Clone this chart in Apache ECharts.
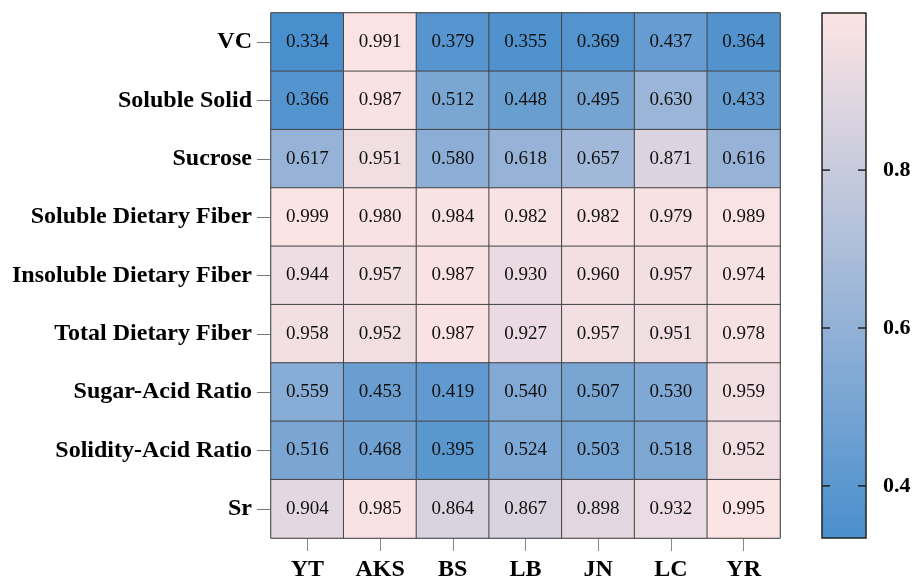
<!DOCTYPE html>
<html>
<head>
<meta charset="utf-8">
<script src="https://cdn.jsdelivr.net/npm/echarts@6/dist/echarts.min.js"></script>
<style>
  html, body { margin: 0; padding: 0; background: #fff; }
  #chart { width: 915px; height: 577px; }
</style>
</head>
<body>
<div id="chart"></div>
<script>
// Cultivars along the bottom
const cultivars = ['YT', 'AKS', 'BS', 'LB', 'JN', 'LC', 'YR'];
// Quality traits, listed top to bottom
const traits = ['VC', 'Soluble Solid', 'Sucrose', 'Soluble Dietary Fiber',
  'Insoluble Dietary Fiber', 'Total Dietary Fiber', 'Sugar-Acid Ratio',
  'Solidity-Acid Ratio', 'Sr'];

// One row of scores per trait (same order as cultivars)
const vc            = [0.334, 0.991, 0.379, 0.355, 0.369, 0.437, 0.364];
const solubleSolid  = [0.366, 0.987, 0.512, 0.448, 0.495, 0.630, 0.433];
const sucrose       = [0.617, 0.951, 0.580, 0.618, 0.657, 0.871, 0.616];
const solubleFiber  = [0.999, 0.980, 0.984, 0.982, 0.982, 0.979, 0.989];
const insolubleFiber= [0.944, 0.957, 0.987, 0.930, 0.960, 0.957, 0.974];
const totalFiber    = [0.958, 0.952, 0.987, 0.927, 0.957, 0.951, 0.978];
const sugarAcid     = [0.559, 0.453, 0.419, 0.540, 0.507, 0.530, 0.959];
const solidityAcid  = [0.516, 0.468, 0.395, 0.524, 0.503, 0.518, 0.952];
const sr            = [0.904, 0.985, 0.864, 0.867, 0.898, 0.932, 0.995];

const rows = [vc, solubleSolid, sucrose, solubleFiber, insolubleFiber,
  totalFiber, sugarAcid, solidityAcid, sr];

// Colour bar tick labels
const colorTicks = [0.4, 0.6, 0.8];

const cells = [];
rows.forEach((row, r) => row.forEach((v, c) => cells.push([c, r, v])));
const allVals = rows.flat();
const vMin = Math.min(...allVals);
const vMax = Math.max(...allVals);

const FONT = 'Liberation Serif';
const BAR = { left: 822, top: 13, width: 44, height: 525 };

const chart = echarts.init(document.getElementById('chart'));
chart.setOption({
  backgroundColor: '#fff',
  animation: false,
  grid: [
    { left: 271, top: 13, width: 509, height: 525, show: true, outerBoundsMode: 'none',
      containLabel: false, borderColor: '#555', borderWidth: 1, backgroundColor: 'transparent' },
    { left: BAR.left, top: BAR.top, width: BAR.width, height: BAR.height, show: true,
      outerBoundsMode: 'none', containLabel: false,
      borderColor: '#222', borderWidth: 1.5, backgroundColor: 'transparent', z: 10 }
  ],
  xAxis: [
    { type: 'category', data: cultivars, gridIndex: 0, position: 'bottom',
      axisLine: { show: false },
      axisTick: { show: true, alignWithLabel: true, length: 13, lineStyle: { color: '#888' } },
      axisLabel: { fontFamily: FONT, fontWeight: 'bold', fontSize: 24, color: '#000', margin: 20 },
      splitLine: { show: false } },
    { type: 'value', gridIndex: 1, show: false, min: 0, max: 1 }
  ],
  yAxis: [
    { type: 'category', data: traits, inverse: true, gridIndex: 0,
      axisLine: { show: false },
      axisTick: { show: true, alignWithLabel: true, length: 14, lineStyle: { color: '#777' } },
      axisLabel: { fontFamily: FONT, fontWeight: 'bold', fontSize: 24, color: '#000', margin: 19 },
      splitLine: { show: false } },
    { type: 'value', gridIndex: 1, position: 'right', min: vMin, max: vMax,
      axisLine: { show: false },
      axisTick: { show: false },
      axisLabel: { show: true, customValues: colorTicks, fontFamily: FONT, fontWeight: 'bold',
        fontSize: 22, color: '#000', margin: 17, formatter: v => v.toFixed(1) },
      splitLine: { show: false } }
  ],
  visualMap: {
    type: 'continuous',
    min: vMin, max: vMax,
    seriesIndex: 0,
    calculable: false,
    orient: 'vertical',
    left: BAR.left, top: BAR.top,
    padding: 0,
    itemWidth: BAR.width, itemHeight: BAR.height,
    text: null,
    showLabel: false,
    inRange: { color: ['#4a8fcd', '#fde4e4'] },
    hoverLink: false
  },
  series: [{
    type: 'heatmap',
    xAxisIndex: 0, yAxisIndex: 0,
    data: cells,
    label: { show: true, fontFamily: FONT, fontSize: 19, color: '#111',
      formatter: p => p.value[2].toFixed(3) },
    itemStyle: { borderColor: '#444', borderWidth: 1 },
    emphasis: { disabled: true }
  }]
});

// Short inward ticks on both edges of the colour bar, placed through the bar's value axis
const tickLen = 8;
const tickEls = [];
colorTicks.forEach(v => {
  const y = chart.convertToPixel({ yAxisIndex: 1 }, v);
  tickEls.push({ type: 'line', z: 20, shape: { x1: BAR.left, y1: y, x2: BAR.left + tickLen, y2: y },
    style: { stroke: '#222', lineWidth: 1.5 } });
  tickEls.push({ type: 'line', z: 20, shape: { x1: BAR.left + BAR.width - tickLen, y1: y, x2: BAR.left + BAR.width, y2: y },
    style: { stroke: '#222', lineWidth: 1.5 } });
});
chart.setOption({ graphic: tickEls });
</script>
</body>
</html>
